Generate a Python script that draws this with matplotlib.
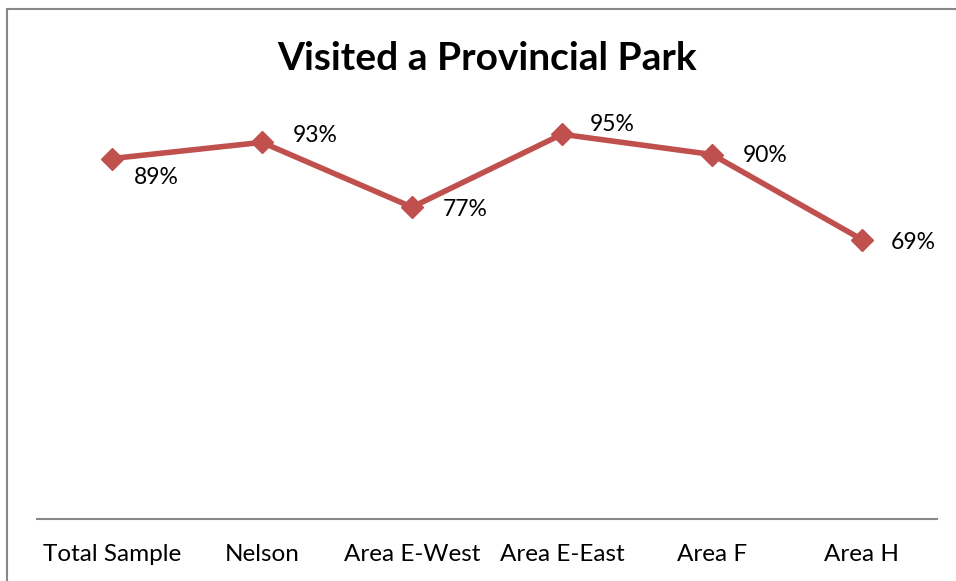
import matplotlib.pyplot as plt
from matplotlib.patches import Rectangle

plt.rcParams['font.family'] = ['Lato', 'DejaVu Sans']

categories = ['Total Sample', 'Nelson', 'Area E-West', 'Area E-East', 'Area F', 'Area H']
visited_pct = [89, 93, 77, 95, 90, 69]

# label offsets in points (dx, dy) so the values don't sit on the line
label_offsets = [(16, -14), (22, 5), (22, -2), (20, 7), (22, -1), (21, -2)]

fig = plt.figure(figsize=(9.56, 5.81), dpi=100)
ax = fig.add_axes([37 / 956, 1 - 519 / 581, 900 / 956, 405 / 581])

x = list(range(len(categories)))
ax.plot(x, visited_pct, color='#C0504D', lw=4, marker='D', ms=11.5,
        solid_joinstyle='miter', zorder=3)

for xi, v, (dx, dy) in zip(x, visited_pct, label_offsets):
    ax.annotate(f'{v}%', (xi, v), xytext=(dx, dy), textcoords='offset points',
                ha='left', va='center', fontsize=16.5, color='black')

ax.set_xlim(-0.5, len(categories) - 0.5)
ax.set_ylim(0, 100)
ax.set_xticks(x)
ax.set_xticklabels(categories, fontsize=17.5)
ax.tick_params(axis='x', length=0, pad=18)
ax.set_yticks([])
for side in ['top', 'right', 'left']:
    ax.spines[side].set_visible(False)
ax.spines['bottom'].set_color('#888888')
ax.spines['bottom'].set_linewidth(1.5)

fig.text(487 / 956, 1 - 58 / 581, 'Visited a Provincial Park', ha='center',
         va='center', fontsize=28, fontweight='bold')

# chart frame
fig.patches.append(Rectangle((7 / 956, -0.1), 1.2, 1 - 9 / 581 + 0.1,
                             transform=fig.transFigure, fill=False,
                             edgecolor='#888888', lw=1.5))

fig.savefig('out.png', dpi=100)
